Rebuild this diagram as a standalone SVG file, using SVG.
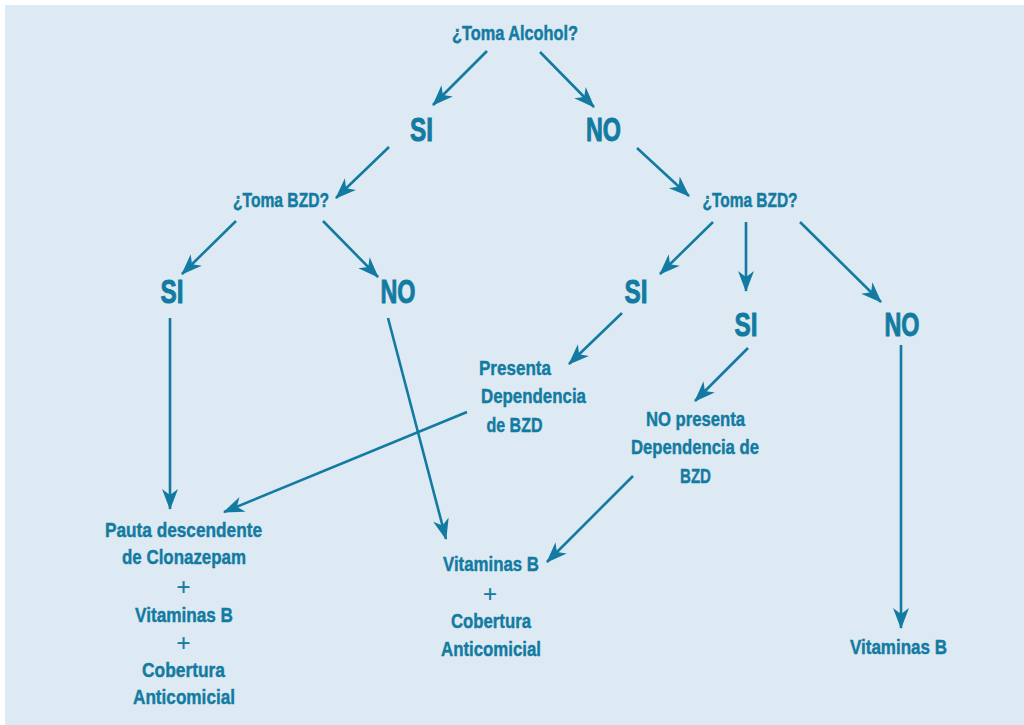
<svg xmlns="http://www.w3.org/2000/svg" width="1024" height="725" viewBox="0 0 1024 725">
  <style>
    .lbl { font-family: "Liberation Sans", Arial, sans-serif; font-weight: bold; fill: #137ba2; stroke: #137ba2; stroke-width: 0.45; text-anchor: middle; }
    .q { font-size: 19.5px; }
    .big { font-size: 34px; stroke-width: 1; }
    .sm { font-size: 21px; }
    .plus { font-size: 24px; font-weight: normal; stroke-width: 0.2; }
    .edge { stroke: #137ba2; stroke-width: 2.6; fill: none; marker-end: url(#arr); }
  </style>
  <defs>
    <marker id="arr" viewBox="-22 -10 24 20" refX="0" refY="0" markerWidth="24" markerHeight="20" markerUnits="userSpaceOnUse" orient="auto">
      <path d="M1,0 L-20,-8 L-14,0 L-20,8 Z" fill="#137ba2"/>
    </marker>
  </defs>
  <rect x="0" y="0" width="1024" height="725" fill="#ffffff"/>
  <rect x="5" y="5" width="1019" height="720" fill="#deeaf3"/>

  <g id="connectors">
    <line class="edge" x1="487" y1="51" x2="433" y2="105"/>
    <line class="edge" x1="540" y1="52" x2="594" y2="107"/>
    <line class="edge" x1="389" y1="147" x2="336" y2="198"/>
    <line class="edge" x1="637" y1="148" x2="689" y2="196"/>
    <line class="edge" x1="236" y1="221" x2="182" y2="274"/>
    <line class="edge" x1="323" y1="221" x2="378" y2="277"/>
    <line class="edge" x1="713" y1="222" x2="660" y2="274"/>
    <line class="edge" x1="746" y1="222" x2="746" y2="291"/>
    <line class="edge" x1="800" y1="222" x2="881" y2="302"/>
    <line class="edge" x1="622" y1="313" x2="569" y2="364"/>
    <line class="edge" x1="748" y1="348" x2="695" y2="401"/>
    <line class="edge" x1="170" y1="318" x2="170" y2="509"/>
    <line class="edge" x1="467" y1="412" x2="224" y2="512"/>
    <line class="edge" x1="388" y1="318" x2="446" y2="539"/>
    <line class="edge" x1="633" y1="476" x2="547" y2="562"/>
    <line class="edge" x1="901" y1="345" x2="901" y2="628"/>
  </g>

  <g id="n-alcohol"><text class="lbl q" x="515" y="40" textLength="126" lengthAdjust="spacingAndGlyphs">¿Toma Alcohol?</text></g>
  <g id="n-si-alcohol"><text class="lbl big" x="421.5" y="141" textLength="23" lengthAdjust="spacingAndGlyphs">SI</text></g>
  <g id="n-no-alcohol"><text class="lbl big" x="603.5" y="141" textLength="35" lengthAdjust="spacingAndGlyphs">NO</text></g>
  <g id="n-bzd-left"><text class="lbl q" x="281" y="207" textLength="96" lengthAdjust="spacingAndGlyphs">¿Toma BZD?</text></g>
  <g id="n-bzd-right"><text class="lbl q" x="750" y="207" textLength="95" lengthAdjust="spacingAndGlyphs">¿Toma BZD?</text></g>
  <g id="n-si-left"><text class="lbl big" x="172" y="303" textLength="23" lengthAdjust="spacingAndGlyphs">SI</text></g>
  <g id="n-no-left"><text class="lbl big" x="398" y="303" textLength="35" lengthAdjust="spacingAndGlyphs">NO</text></g>
  <g id="n-si-right1"><text class="lbl big" x="636" y="303" textLength="23" lengthAdjust="spacingAndGlyphs">SI</text></g>
  <g id="n-si-right2"><text class="lbl big" x="746" y="336" textLength="23" lengthAdjust="spacingAndGlyphs">SI</text></g>
  <g id="n-no-right"><text class="lbl big" x="902" y="336" textLength="35" lengthAdjust="spacingAndGlyphs">NO</text></g>

  <g id="n-presenta">
    <text class="lbl sm" x="515" y="375" textLength="72" lengthAdjust="spacingAndGlyphs">Presenta</text>
    <text class="lbl sm" x="533.5" y="403" textLength="105" lengthAdjust="spacingAndGlyphs">Dependencia</text>
    <text class="lbl sm" x="514.5" y="432" textLength="56" lengthAdjust="spacingAndGlyphs">de BZD</text>
  </g>
  <g id="n-no-presenta">
    <text class="lbl sm" x="695.5" y="426" textLength="99" lengthAdjust="spacingAndGlyphs">NO presenta</text>
    <text class="lbl sm" x="695" y="454" textLength="128" lengthAdjust="spacingAndGlyphs">Dependencia de</text>
    <text class="lbl sm" x="695.5" y="483" textLength="31" lengthAdjust="spacingAndGlyphs">BZD</text>
  </g>

  <g id="n-pauta">
    <text class="lbl sm" x="183.5" y="537" textLength="157" lengthAdjust="spacingAndGlyphs">Pauta descendente</text>
    <text class="lbl sm" x="184" y="564" textLength="124" lengthAdjust="spacingAndGlyphs">de Clonazepam</text>
    <text class="lbl plus" x="183.5" y="595">+</text>
    <text class="lbl sm" x="184" y="622" textLength="98" lengthAdjust="spacingAndGlyphs">Vitaminas B</text>
    <text class="lbl plus" x="183.5" y="651">+</text>
    <text class="lbl sm" x="183.5" y="677" textLength="83" lengthAdjust="spacingAndGlyphs">Cobertura</text>
    <text class="lbl sm" x="184" y="704" textLength="102" lengthAdjust="spacingAndGlyphs">Anticomicial</text>
  </g>
  <g id="n-vitaminas-cobertura">
    <text class="lbl sm" x="491" y="571" textLength="96" lengthAdjust="spacingAndGlyphs">Vitaminas B</text>
    <text class="lbl plus" x="490" y="602">+</text>
    <text class="lbl sm" x="491" y="628" textLength="80" lengthAdjust="spacingAndGlyphs">Cobertura</text>
    <text class="lbl sm" x="491" y="656" textLength="100" lengthAdjust="spacingAndGlyphs">Anticomicial</text>
  </g>
  <g id="n-vitaminas"><text class="lbl sm" x="898.5" y="654" textLength="97" lengthAdjust="spacingAndGlyphs">Vitaminas B</text></g>
</svg>
